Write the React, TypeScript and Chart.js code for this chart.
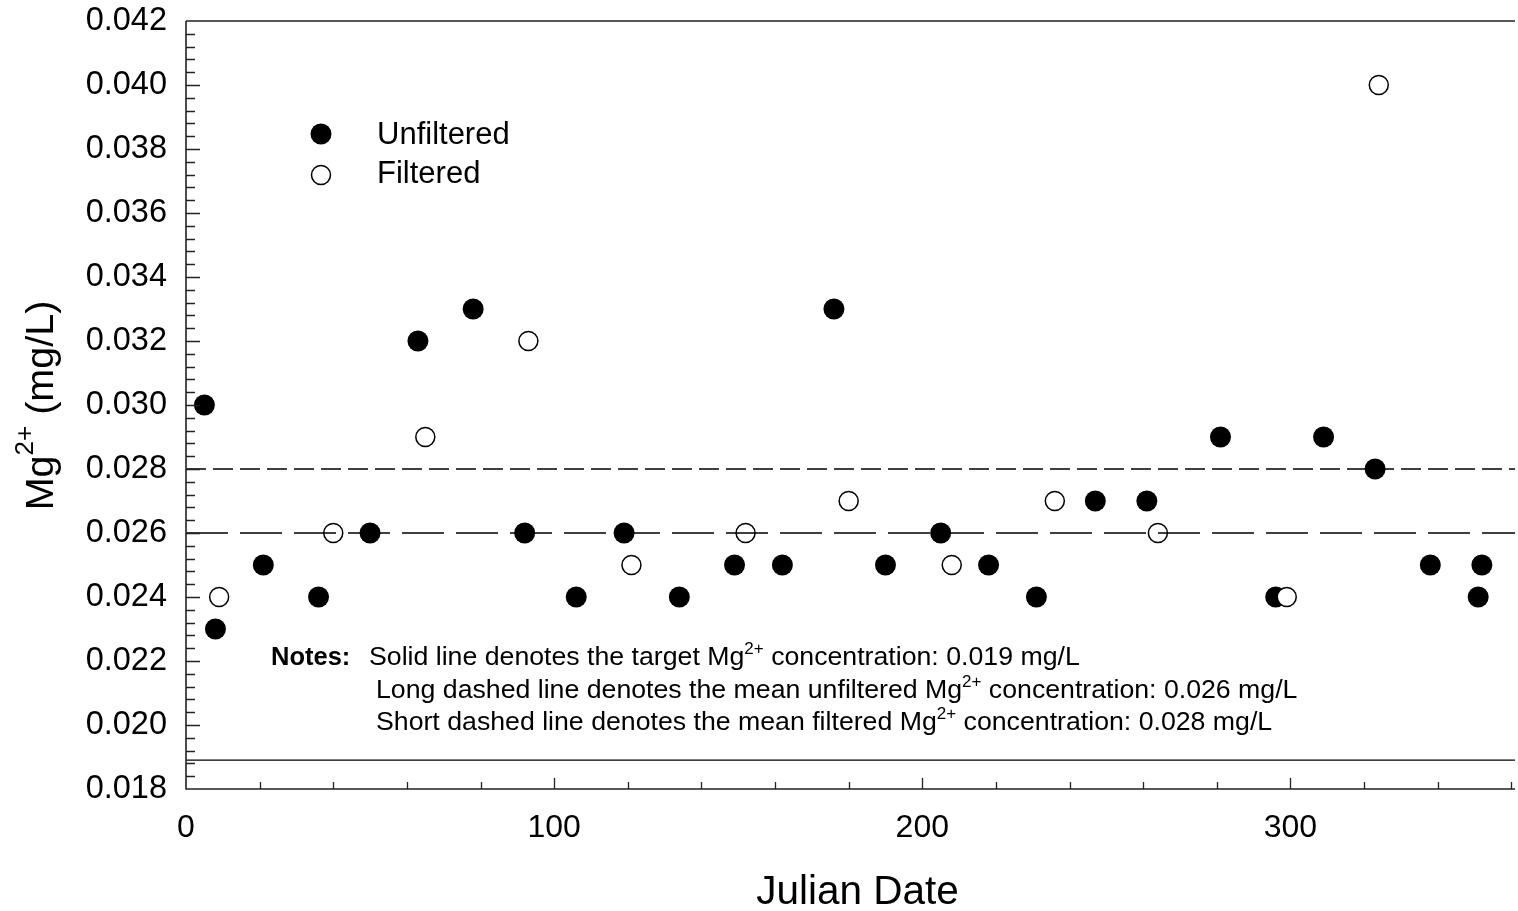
import { useEffect, useRef } from "react";
import { Chart, registerables } from "chart.js";

Chart.register(...registerables);

// ---- Data ----
const unfilteredDays = [5, 8, 21, 36, 50, 63, 78, 92, 106, 119, 134, 149, 162, 176, 190, 205, 218, 231, 247, 261, 281, 296, 309, 323, 338, 351, 352];
const unfilteredMg = [0.030, 0.023, 0.025, 0.024, 0.026, 0.032, 0.033, 0.026, 0.024, 0.026, 0.024, 0.025, 0.025, 0.033, 0.025, 0.026, 0.025, 0.024, 0.027, 0.027, 0.029, 0.024, 0.029, 0.028, 0.025, 0.024, 0.025];

const filteredDays = [9, 40, 65, 93, 121, 152, 180, 208, 236, 264, 299, 324];
const filteredMg = [0.024, 0.026, 0.029, 0.032, 0.025, 0.026, 0.027, 0.025, 0.027, 0.026, 0.024, 0.040];

const targetMg = 0.0189;
const meanUnfilteredMg = 0.026;
const meanFilteredMg = 0.028;

const xTickValues = [0, 100, 200, 300];
const yTickValues = [0.018, 0.020, 0.022, 0.024, 0.026, 0.028, 0.030, 0.032, 0.034, 0.036, 0.038, 0.040, 0.042];
const xRange = [0, 361];
const yRange = [0.018, 0.042];

const FONT = '"Liberation Sans", Arial, Helvetica, sans-serif';

type Part = { t: string; sup?: boolean; bold?: boolean };

function partFont(p: Part, size: number, supSize: number) {
  return `${p.bold ? "bold " : ""}${p.sup ? supSize : size}px ${FONT}`;
}

function measureRich(ctx: CanvasRenderingContext2D, parts: Part[], size: number, supSize: number) {
  let w = 0;
  for (const p of parts) {
    ctx.font = partFont(p, size, supSize);
    w += ctx.measureText(p.t).width;
  }
  return w;
}

function drawRich(ctx: CanvasRenderingContext2D, parts: Part[], x: number, y: number, size: number, supSize: number, rise: number) {
  let cx = x;
  for (const p of parts) {
    ctx.font = partFont(p, size, supSize);
    ctx.fillText(p.t, cx, p.sup ? y - rise : y);
    cx += ctx.measureText(p.t).width;
  }
}

const decorPlugin = {
  id: "decor",
  afterDatasetsDraw(chart: any) {
    const { ctx, chartArea: a, scales } = chart;
    const xs = scales.x;
    const ys = scales.y;
    ctx.save();
    ctx.strokeStyle = "#222";
    ctx.lineWidth = 1.6;
    ctx.beginPath();
    ctx.moveTo(a.left, a.top);
    ctx.lineTo(a.right, a.top);
    ctx.moveTo(a.left, a.top);
    ctx.lineTo(a.left, a.bottom);
    ctx.lineTo(a.right, a.bottom);
    ctx.stroke();

    // inward ticks
    ctx.lineWidth = 1.3;
    ctx.beginPath();
    const yStep = 0.002 / 5;
    for (let k = 1; k < 60; k++) {
      const v = yRange[0] + k * yStep;
      const py = Math.round(ys.getPixelForValue(v)) + 0.5;
      const len = k % 5 === 0 ? 14 : 9;
      ctx.moveTo(a.left, py);
      ctx.lineTo(a.left + len, py);
    }
    for (let k = 1; k <= 18; k++) {
      const v = k * 20;
      const px = Math.round(xs.getPixelForValue(v)) + 0.5;
      const len = v % 100 === 0 ? 11 : 7;
      ctx.moveTo(px, a.bottom);
      ctx.lineTo(px, a.bottom - len);
    }
    ctx.stroke();

    ctx.fillStyle = "#000";
    ctx.textBaseline = "alphabetic";
    ctx.textAlign = "left";

    // x title
    ctx.font = `40.5px ${FONT}`;
    const xt = "Julian Date";
    const xtw = ctx.measureText(xt).width;
    ctx.fillText(xt, 857.5 - xtw / 2, 904);

    // y title
    const yParts: Part[] = [{ t: "Mg" }, { t: "2+", sup: true }, { t: " (mg/L)" }];
    const ytw = measureRich(ctx, yParts, 39.5, 26);
    ctx.save();
    ctx.translate(53, 405.5);
    ctx.rotate(-Math.PI / 2);
    drawRich(ctx, yParts, -ytw / 2, 0, 39.5, 26, 20);
    ctx.restore();

    // legend
    ctx.beginPath();
    ctx.arc(321, 134, 10.5, 0, Math.PI * 2);
    ctx.fillStyle = "#000";
    ctx.fill();
    ctx.beginPath();
    ctx.arc(321, 175, 9.5, 0, Math.PI * 2);
    ctx.fillStyle = "#fff";
    ctx.fill();
    ctx.lineWidth = 1.5;
    ctx.strokeStyle = "#000";
    ctx.stroke();
    ctx.fillStyle = "#000";
    ctx.font = `31px ${FONT}`;
    ctx.fillText("Unfiltered", 377, 144);
    ctx.fillText("Filtered", 377, 183);

    // notes
    const ns = 26.7;
    const ss = 17;
    const rise = 11;
    drawRich(ctx, [{ t: "Notes:", bold: true }], 271, 665, 25.5, ss, rise);
    drawRich(ctx, [{ t: "Solid line denotes the target Mg" }, { t: "2+", sup: true }, { t: " concentration: 0.019 mg/L" }], 369, 665, ns, ss, rise);
    drawRich(ctx, [{ t: "Long dashed line denotes the mean unfiltered Mg" }, { t: "2+", sup: true }, { t: " concentration: 0.026 mg/L" }], 376, 698, ns, ss, rise);
    drawRich(ctx, [{ t: "Short dashed line denotes the mean filtered Mg" }, { t: "2+", sup: true }, { t: " concentration: 0.028 mg/L" }], 376, 730, ns, ss, rise);

    ctx.restore();
  },
};

const whiteBg = {
  id: "whiteBg",
  beforeDraw(chart: any) {
    const { ctx, width, height } = chart;
    ctx.save();
    ctx.fillStyle = "#fff";
    ctx.fillRect(0, 0, width, height);
    ctx.restore();
  },
};

function hLine(value: number) {
  return [
    { x: xRange[0], y: value },
    { x: xRange[1], y: value },
  ];
}

export default function App() {
  const ref = useRef<HTMLCanvasElement | null>(null);

  useEffect(() => {
    if (!ref.current) return;
    const chart = new Chart(ref.current, {
      type: "scatter",
      data: {
        datasets: [
          {
            type: "line",
            label: "target",
            data: hLine(targetMg),
            borderColor: "#000",
            borderWidth: 1.3,
            pointRadius: 0,
            order: 0,
          } as any,
          {
            type: "line",
            label: "mean unfiltered",
            data: hLine(meanUnfilteredMg),
            borderColor: "#000",
            borderWidth: 1.3,
            borderDash: [42, 12],
            pointRadius: 0,
            order: 0,
          } as any,
          {
            type: "line",
            label: "mean filtered",
            data: hLine(meanFilteredMg),
            borderColor: "#000",
            borderWidth: 1.3,
            borderDash: [20, 7],
            pointRadius: 0,
            order: 0,
          } as any,
          {
            label: "Filtered",
            data: filteredDays.map((d, i) => ({ x: d, y: filteredMg[i] })),
            backgroundColor: "#fff",
            borderColor: "#000",
            borderWidth: 1.5,
            pointRadius: 9.5,
            order: 1,
          },
          {
            label: "Unfiltered",
            data: unfilteredDays.map((d, i) => ({ x: d, y: unfilteredMg[i] })),
            backgroundColor: "#000",
            borderColor: "#000",
            borderWidth: 0,
            pointRadius: 10.5,
            order: 2,
          },
        ],
      },
      options: {
        animation: false,
        responsive: false,
        devicePixelRatio: 1,
        layout: { autoPadding: false, padding: { top: 21, right: 3, left: 0, bottom: 0 } },
        plugins: { legend: { display: false }, tooltip: { enabled: false } },
        events: [],
        scales: {
          x: {
            type: "linear",
            min: xRange[0],
            max: xRange[1],
            grid: { display: false, drawTicks: false },
            border: { display: false },
            afterBuildTicks: (s: any) => {
              s.ticks = xTickValues.map((v) => ({ value: v }));
            },
            afterFit: (s: any) => {
              s.height = 122;
              s.paddingLeft = 0;
              s.paddingRight = 0;
            },
            ticks: {
              padding: 20,
              color: "#000",
              font: { family: FONT, size: 32 },
              maxRotation: 0,
              callback: (v: any) => String(v),
            },
          },
          y: {
            type: "linear",
            min: yRange[0],
            max: yRange[1],
            grid: { display: false, drawTicks: false },
            border: { display: false },
            afterBuildTicks: (s: any) => {
              s.ticks = yTickValues.map((v) => ({ value: v }));
            },
            afterFit: (s: any) => {
              s.width = 186;
              s.paddingTop = 0;
              s.paddingBottom = 0;
            },
            ticks: {
              padding: 19,
              color: "#000",
              font: { family: FONT, size: 32.5 },
              callback: (v: any) => Number(v).toFixed(3),
            },
          },
        },
      },
      plugins: [whiteBg, decorPlugin],
    });
    return () => chart.destroy();
  }, []);

  return (
    <div style={{ position: "absolute", left: 0, top: 0, width: 1518, height: 911, background: "#fff" }}>
      <canvas ref={ref} width={1518} height={911} style={{ display: "block" }} />
    </div>
  );
}
